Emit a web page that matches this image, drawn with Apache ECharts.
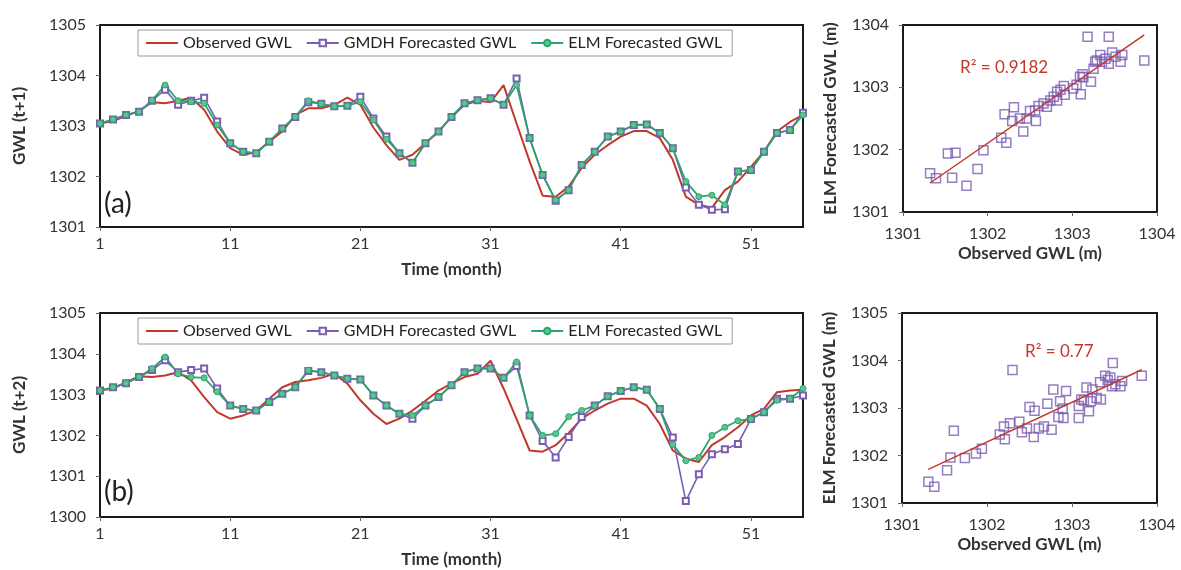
<!DOCTYPE html>
<html>
<head>
<meta charset="utf-8">
<script src="https://cdn.jsdelivr.net/npm/echarts@6/dist/echarts.min.js"></script>
<style>
  html, body { margin: 0; padding: 0; background: #fff; }
  #main { width: 1181px; height: 570px; }
</style>
</head>
<body>
<div id="main"></div>
<script>
// months 1..55
var months = [];
for (var i = 1; i <= 55; i++) months.push(String(i));

// (a) GWL (t+1)
var obsA = [1303.05,1303.1,1303.2,1303.3,1303.47,1303.45,1303.5,1303.56,1303.32,1302.89,
  1302.56,1302.43,1302.48,1302.69,1302.89,1303.22,1303.35,1303.35,1303.42,1303.56,
  1303.42,1302.97,1302.62,1302.33,1302.43,1302.66,1302.89,1303.18,1303.42,1303.5,
  1303.47,1303.81,1303.05,1302.3,1301.62,1301.6,1301.8,1302.17,1302.43,1302.62,
  1302.79,1302.9,1302.9,1302.76,1302.33,1301.6,1301.44,1301.38,1301.73,1301.9,
  1302.19,1302.49,1302.89,1303.08,1303.22];
var gmdhA = [1303.05,1303.13,1303.22,1303.28,1303.5,1303.72,1303.42,1303.5,1303.56,1303.09,
  1302.66,1302.49,1302.46,1302.69,1302.95,1303.18,1303.47,1303.44,1303.39,1303.4,
  1303.58,1303.15,1302.79,1302.46,1302.27,1302.66,1302.89,1303.18,1303.45,1303.51,
  1303.55,1303.42,1303.94,1302.76,1302.03,1301.52,1301.73,1302.23,1302.49,1302.79,
  1302.89,1303.02,1303.03,1302.86,1302.56,1301.78,1301.44,1301.34,1301.35,1302.1,
  1302.13,1302.49,1302.86,1302.92,1303.26];
var elmA = [1303.05,1303.13,1303.22,1303.28,1303.51,1303.81,1303.5,1303.48,1303.45,1303.02,
  1302.66,1302.49,1302.46,1302.69,1302.95,1303.18,1303.5,1303.44,1303.39,1303.4,
  1303.48,1303.12,1302.74,1302.46,1302.27,1302.66,1302.89,1303.18,1303.45,1303.51,
  1303.55,1303.42,1303.81,1302.76,1302.03,1301.53,1301.73,1302.23,1302.49,1302.79,
  1302.89,1303.02,1303.03,1302.86,1302.56,1301.9,1301.6,1301.63,1301.44,1302.1,
  1302.13,1302.49,1302.86,1302.92,1303.22];

// (b) GWL (t+2)
var obsB = [1303.1,1303.15,1303.3,1303.45,1303.43,1303.47,1303.55,1303.35,1302.94,1302.57,
  1302.41,1302.49,1302.61,1302.9,1303.18,1303.31,1303.35,1303.41,1303.51,1303.27,
  1302.86,1302.53,1302.28,1302.41,1302.61,1302.85,1303.1,1303.27,1303.43,1303.51,
  1303.83,1303.15,1302.4,1301.63,1301.6,1301.76,1302.06,1302.41,1302.61,1302.78,
  1302.9,1302.9,1302.73,1302.28,1301.63,1301.43,1301.35,1301.76,1301.96,1302.2,
  1302.49,1302.65,1303.06,1303.1,1303.12];
var gmdhB = [1303.1,1303.18,1303.28,1303.43,1303.6,1303.84,1303.55,1303.6,1303.64,1303.15,
  1302.73,1302.65,1302.61,1302.82,1303.02,1303.18,1303.58,1303.55,1303.47,1303.39,
  1303.37,1302.98,1302.73,1302.53,1302.41,1302.73,1302.94,1303.23,1303.55,1303.64,
  1303.64,1303.41,1303.7,1302.49,1301.86,1301.46,1301.96,1302.45,1302.73,1302.96,
  1303.09,1303.18,1303.12,1302.65,1301.95,1300.39,1301.05,1301.54,1301.66,1301.79,
  1302.4,1302.57,1302.9,1302.9,1302.98];
var elmB = [1303.1,1303.18,1303.28,1303.43,1303.64,1303.92,1303.51,1303.43,1303.41,1303.07,
  1302.73,1302.65,1302.61,1302.82,1303.02,1303.18,1303.6,1303.55,1303.47,1303.39,
  1303.37,1302.98,1302.73,1302.53,1302.49,1302.73,1302.94,1303.23,1303.55,1303.64,
  1303.64,1303.41,1303.8,1302.49,1302.0,1302.04,1302.46,1302.61,1302.73,1302.96,
  1303.09,1303.18,1303.12,1302.65,1301.78,1301.38,1301.46,1302.0,1302.2,1302.36,
  1302.4,1302.57,1302.86,1302.9,1303.15];

// scatter (observed, forecasted)
var scatA = [[1301.32,1301.62],[1301.39,1301.54],[1301.53,1301.94],[1301.62,1301.95],[1301.58,1301.55],
  [1301.75,1301.42],[1301.88,1301.69],[1301.95,1301.99],[1302.16,1302.19],[1302.22,1302.11],
  [1302.2,1302.57],[1302.31,1302.68],[1302.29,1302.46],[1302.42,1302.29],[1302.38,1302.5],
  [1302.46,1302.5],[1302.5,1302.62],[1302.57,1302.46],[1302.56,1302.63],[1302.6,1302.7],
  [1302.66,1302.74],[1302.7,1302.69],[1302.74,1302.79],[1302.78,1302.85],[1302.82,1302.93],
  [1302.86,1302.96],[1302.9,1303.02],[1302.91,1302.88],[1302.82,1302.79],[1303.05,1303.04],
  [1303.09,1303.17],[1303.12,1303.21],[1303.1,1302.89],[1303.22,1303.09],[1303.25,1303.3],
  [1303.27,1303.41],[1303.33,1303.52],[1303.35,1303.41],[1303.43,1303.38],[1303.47,1303.56],
  [1303.51,1303.49],[1303.59,1303.52],[1303.57,1303.41],[1303.18,1303.81],[1303.43,1303.81],
  [1303.85,1303.43],[1303.29,1303.43],[1303.39,1303.46],[1303.13,1303.16],[1303.01,1302.98]];
var scatB = [[1301.31,1301.45],[1301.38,1301.34],[1301.53,1301.69],[1301.57,1301.96],[1301.61,1302.52],
  [1301.74,1301.95],[1301.87,1302.04],[1301.94,1302.14],[1302.15,1302.44],[1302.2,1302.61],
  [1302.21,1302.34],[1302.27,1302.68],[1302.3,1303.8],[1302.38,1302.71],[1302.41,1302.49],
  [1302.47,1302.57],[1302.5,1303.02],[1302.56,1302.94],[1302.55,1302.39],[1302.61,1302.57],
  [1302.67,1302.61],[1302.71,1303.09],[1302.76,1302.54],[1302.78,1303.39],[1302.84,1302.81],
  [1302.86,1303.14],[1302.9,1302.79],[1302.89,1302.99],[1302.93,1303.36],[1303.08,1302.79],
  [1303.08,1303.04],[1303.11,1303.18],[1303.14,1303.16],[1303.17,1303.43],[1303.2,1302.93],
  [1303.22,1303.14],[1303.24,1303.39],[1303.29,1303.21],[1303.34,1303.18],[1303.33,1303.54],
  [1303.39,1303.68],[1303.42,1303.59],[1303.45,1303.64],[1303.48,1303.95],[1303.47,1303.46],
  [1303.51,1303.5],[1303.57,1303.46],[1303.59,1303.57],[1303.82,1303.68]];

var RED = '#c0392b', PURPLE = '#7b5cb3', GREEN = '#2aa56b', FONT = 'Lato';

// least squares trend line over the scatter's x range
function trend(pts) {
  var n = pts.length, sx = 0, sy = 0, sxx = 0, sxy = 0, mn = Infinity, mx = -Infinity;
  pts.forEach(function (p) {
    sx += p[0]; sy += p[1]; sxx += p[0] * p[0]; sxy += p[0] * p[1];
    mn = Math.min(mn, p[0]); mx = Math.max(mx, p[0]);
  });
  var b = (n * sxy - sx * sy) / (n * sxx - sx * sx), a = (sy - b * sx) / n;
  return [[mn, a + b * mn], [mx, a + b * mx]];
}

function tsSeries(idx, obs, gmdh, elm) {
  return [
    { name: 'Observed GWL', type: 'line', xAxisIndex: idx, yAxisIndex: idx, data: obs,
      symbol: 'none', lineStyle: { color: RED, width: 2 }, itemStyle: { color: RED } },
    { name: 'GMDH Forecasted GWL', type: 'line', xAxisIndex: idx, yAxisIndex: idx, data: gmdh,
      symbol: 'emptyRect', symbolSize: 6, lineStyle: { color: PURPLE, width: 1.6 },
      itemStyle: { color: PURPLE, borderWidth: 1 } },
    { name: 'ELM Forecasted GWL', type: 'line', xAxisIndex: idx, yAxisIndex: idx, data: elm,
      symbol: 'circle', symbolSize: 6, lineStyle: { color: GREEN, width: 1.8 },
      itemStyle: { color: '#5cc48e', borderColor: GREEN, borderWidth: 1 } }
  ];
}

function scSeries(idx, pts) {
  return [
    { name: 'scatter' + idx, type: 'scatter', xAxisIndex: idx, yAxisIndex: idx, data: pts,
      symbol: 'rect', symbolSize: 9,
      itemStyle: { color: 'rgba(0,0,0,0)', borderColor: PURPLE, borderWidth: 1.5 } },
    { name: 'trend' + idx, type: 'line', xAxisIndex: idx, yAxisIndex: idx, data: trend(pts),
      symbol: 'none', lineStyle: { color: RED, width: 1.5 }, z: 3 }
  ];
}

var lbl = { color: '#333', fontFamily: FONT, fontSize: 16 };
var nameSt = { color: '#333', fontFamily: FONT, fontSize: 17, fontWeight: 'bold' };

function catAxis(gi) {
  return { type: 'category', gridIndex: gi, data: months, boundaryGap: false,
    name: 'Time (month)', nameLocation: 'middle', nameGap: 34, nameTextStyle: nameSt,
    axisLine: { show: false },
    axisTick: { interval: 9, length: 4, lineStyle: { color: '#666' } },
    axisLabel: Object.assign({ interval: 9, margin: 9 }, lbl), splitLine: { show: false } };
}
function valAxis(gi, min, max, name, gap) {
  return { type: 'value', gridIndex: gi, min: min, max: max, interval: 1,
    name: name, nameLocation: 'middle', nameGap: gap, nameTextStyle: nameSt,
    axisLine: { show: false }, axisTick: { show: true, length: 4, lineStyle: { color: '#666' } },
    axisLabel: Object.assign({ margin: 14, formatter: function (v) { return String(v); } }, lbl),
    splitLine: { show: false } };
}

var gridSt = { show: true, borderColor: '#1a1a1a', borderWidth: 2, backgroundColor: '#fff' };
var legendSt = { orient: 'horizontal', itemGap: 14, itemWidth: 32, itemHeight: 8,
  borderColor: '#999', borderWidth: 1, padding: [5, 10, 5, 8],
  textStyle: { color: '#222', fontFamily: FONT, fontSize: 16 },
  data: [
    { name: 'Observed GWL', icon: 'path://M0,0 L32,0 L32,2 L0,2 Z' },
    'GMDH Forecasted GWL', 'ELM Forecasted GWL'
  ] };

var chart = echarts.init(document.getElementById('main'));
chart.setOption({
  animation: false,
  backgroundColor: '#fff',
  legend: [
    Object.assign({ left: 138, top: 30 }, legendSt),
    Object.assign({ left: 138, top: 318 }, legendSt)
  ],
  grid: [
    Object.assign({ left: 100, top: 25, width: 703, height: 202 }, gridSt),
    Object.assign({ left: 100, top: 313, width: 703, height: 204 }, gridSt),
    Object.assign({ left: 903, top: 25, width: 254, height: 187 }, gridSt),
    Object.assign({ left: 902, top: 313, width: 255, height: 190 }, gridSt)
  ],
  xAxis: [
    catAxis(0), catAxis(1),
    valAxis(2, 1301, 1304, 'Observed GWL (m)', 33),
    valAxis(3, 1301, 1304, 'Observed GWL (m)', 33)
  ],
  yAxis: [
    valAxis(0, 1301, 1305, 'GWL (t+1)', 72),
    valAxis(1, 1300, 1305, 'GWL (t+2)', 72),
    valAxis(2, 1301, 1304, 'ELM Forecasted GWL (m)', 64),
    valAxis(3, 1301, 1305, 'ELM Forecasted GWL (m)', 64)
  ],
  graphic: [
    { type: 'text', left: 104, top: 190, style: { text: '(a)', fontSize: 28, fontFamily: FONT, fill: '#222' } },
    { type: 'text', left: 104, top: 478, style: { text: '(b)', fontSize: 28, fontFamily: FONT, fill: '#222' } },
    { type: 'text', left: 960, top: 59, style: { text: 'R\u00b2 = 0.9182', fontSize: 17, fontFamily: FONT, fill: RED } },
    { type: 'text', left: 1025, top: 343, style: { text: 'R\u00b2 = 0.77', fontSize: 17, fontFamily: FONT, fill: RED } }
  ],
  series: [].concat(
    tsSeries(0, obsA, gmdhA, elmA),
    tsSeries(1, obsB, gmdhB, elmB),
    scSeries(2, scatA),
    scSeries(3, scatB)
  )
});
</script>
</body>
</html>
